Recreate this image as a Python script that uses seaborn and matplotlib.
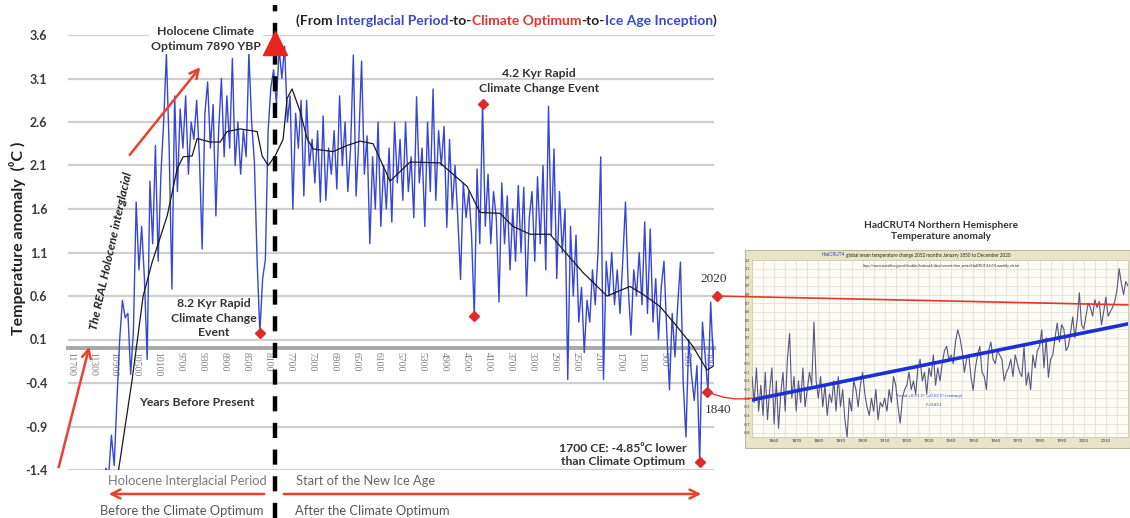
import numpy as np
import pandas as pd
import matplotlib
matplotlib.use("Agg")
import matplotlib.pyplot as plt
import seaborn as sns
from matplotlib.patches import Rectangle, ConnectionPatch

# ---------------- data ----------------
# Holocene temperature reconstruction (years before present, 50-yr steps)
years_bp = np.arange(11150, -51, -50)
temp_anom = [
    -1.70, -1.50, -1.38, -1.45, -1.00, -1.35, -0.60, 0.10, 0.55, 0.35,
    0.40, -0.30, 0.20, 1.68, 0.90, 1.40, 0.80, -0.13, 1.92, 1.20,
    2.33, 1.00, 2.00, 2.60, 3.39, 2.30, 0.68, 2.90, 1.80, 2.75,
    2.30, 2.90, 2.00, 2.60, 2.40, 2.85, 2.20, 1.14, 2.70, 3.06,
    2.30, 2.80, 1.52, 2.50, 3.10, 2.20, 2.90, 2.30, 3.33, 2.10,
    2.60, 2.00, 2.50, 2.20, 3.39, 2.60, 2.14, 1.00, 0.18, 0.80,
    1.02, 2.50, 3.00, 3.20, 2.80, 3.44, 3.10, 3.47, 2.60, 2.90,
    1.60, 2.70, 2.30, 2.85, 1.75, 2.85, 2.10, 2.40, 1.90, 2.50,
    1.68, 2.67, 1.70, 2.30, 2.00, 2.50, 1.83, 2.90, 2.10, 2.60,
    1.80, 2.30, 3.37, 1.75, 2.40, 3.30, 2.00, 2.44, 1.20, 2.20,
    1.60, 2.60, 1.40, 2.10, 1.60, 2.30, 1.45, 2.60, 1.90, 2.40,
    1.70, 2.60, 1.80, 2.20, 1.50, 2.89, 1.90, 2.30, 1.40, 2.60,
    1.80, 2.98, 1.70, 2.50, 2.10, 2.55, 1.39, 2.40, 1.60, 2.10,
    1.50, 0.79, 1.90, 1.50, 1.80, 1.30, 0.37, 2.06, 1.20, 2.81,
    1.40, 2.00, 1.20, 1.80, 1.50, 0.53, 1.90, 1.20, 1.75, 0.90,
    1.60, 1.00, 1.87, 1.10, 1.85, 0.60, 1.50, 1.80, 1.00, 1.97,
    1.20, 2.10, 0.90, 2.78, 1.30, 2.29, 0.80, 1.80, 1.10, 1.60,
    -0.36, 1.40, 0.60, 1.30, 0.30, 0.70, -0.05, 0.55, 0.30, 0.90,
    0.50, 1.10, 2.20, -0.36, 1.00, 0.60, 1.10, 0.50, 0.90, 0.40,
    1.00, 1.68, 0.70, 0.15, 0.90, 0.60, 1.10, 0.50, 1.45, 0.40,
    1.37, 0.30, 0.80, 0.10, 0.70, 1.00, 0.20, -0.48, 0.40, -0.10,
    0.50, 0.99, -0.40, -1.02, 0.10, -0.30, -0.60, -0.20, -1.31, 0.30,
    -0.10, -0.50, 0.53, -0.20, 0.55,
]
# smoothed (running mean) curve
smooth_years = [10900, 10820, 10573, 10373, 10209, 9936, 9755, 9646, 9482, 9391,
                9155, 8973, 8846, 8609, 8300, 8209, 8100, 7973, 7828, 7755,
                7664, 7518, 7391, 7282, 6918, 6664, 6427, 6191, 5882, 5518,
                4973, 4482, 4246, 3882, 3646, 3336, 2973, 2664, 2373, 1936,
                1518, 1282, 973, 664, 373, 118, 9]
smooth_vals = [-1.70, -1.40, -0.36, 0.60, 0.99, 1.52, 2.06, 2.20, 2.21, 2.41,
               2.37, 2.37, 2.49, 2.52, 2.49, 2.21, 2.10, 2.21, 2.40, 2.87,
               2.98, 2.72, 2.41, 2.29, 2.26, 2.33, 2.38, 2.35, 1.92, 2.14,
               2.13, 1.86, 1.56, 1.55, 1.40, 1.31, 1.31, 1.08, 0.87, 0.60,
               0.71, 0.62, 0.48, 0.25, 0.02, -0.25, -0.21]
# highlighted events: 8.2 kyr, 4.2 kyr peak, 4.2 kyr low, 1700 CE, 1840, 2020
event_years = [8250, 4200, 4350, 250, 110, -70]
event_vals = [0.18, 2.81, 0.37, -1.31, -0.50, 0.60]
optimum_year = 7970
optimum_peak = 3.51
ytick_vals = [3.6, 3.1, 2.6, 2.1, 1.6, 1.1, 0.6, 0.1, -0.4, -0.9, -1.4]
xtick_years = list(range(11700, 0, -400))

# HadCRUT4 Northern Hemisphere inset (annual)
had_years = np.arange(1850, 2021)
had_vals = [
    -0.15, -0.45, -0.05, -0.55, -0.25, -0.60, -0.10, -0.65, -0.30, -0.05,
    -0.70, -0.20, -0.75, -0.35, -0.10, -0.55, 0.05, 0.35, -0.40, -0.15,
    -0.55, -0.20, -0.45, -0.05, -0.50, -0.30, -0.10, -0.25, 0.48, -0.20,
    -0.40, -0.15, -0.50, -0.25, -0.60, -0.35, -0.45, -0.20, -0.55, -0.15,
    -0.50, -0.30, -0.65, -0.85, -0.40, -0.55, -0.20, -0.30, -0.50, -0.25,
    -0.10, -0.35, -0.50, -0.60, -0.40, -0.55, -0.30, -0.65, -0.45, -0.50,
    -0.40, -0.55, -0.30, -0.45, -0.15, -0.25, -0.50, -0.69, -0.40, -0.30,
    -0.25, -0.10, -0.30, -0.20, -0.35, -0.05, 0.05, -0.20, -0.10, -0.35,
    -0.05, -0.15, 0.10, -0.25, -0.05, -0.20, 0.00, 0.15, 0.20, 0.05,
    0.10, 0.00, 0.25, 0.39, 0.30, 0.15, -0.10, 0.05, 0.10, -0.15,
    -0.31, -0.05, 0.10, 0.20, -0.10, -0.15, -0.30, 0.15, 0.25, 0.05,
    0.00, 0.15, 0.10, 0.05, -0.20, -0.10, -0.05, 0.05, -0.15, 0.10,
    0.00, -0.10, -0.15, 0.20, -0.25, -0.10, -0.30, 0.10, -0.05, 0.15,
    0.20, 0.39, -0.05, 0.30, -0.16, 0.05, 0.10, 0.30, 0.47, 0.25,
    0.45, 0.40, 0.15, 0.20, 0.35, 0.54, 0.30, 0.50, 0.82, 0.45,
    0.40, 0.55, 0.70, 0.65, 0.55, 0.74, 0.65, 0.72, 0.45, 0.60,
    0.77, 0.55, 0.60, 0.65, 0.72, 0.85, 1.10, 0.93, 0.80, 0.95,
    0.90,
]
trend_years = [1850, 2020]
trend_vals = [-0.42, 0.46]
link_2020_end = (2020, 0.68)
link_1840_end = (1850, -0.40)
had_xticks = list(range(1860, 2011, 10))
had_yticks = [round(v, 1) for v in np.arange(-0.8, 1.21, 0.1)]

# ---------------- style ----------------
sns.set_style("white")
plt.rcParams["font.family"] = ["Lato", "DejaVu Sans"]

W, H = 1130, 518
fig = plt.figure(figsize=(W / 100, H / 100), dpi=100)
fig.patch.set_facecolor("white")


def fx(px):
    return px / W


def fy(py):
    return 1 - py / H


BLUE = "#3646d6"
RED = "#e3362a"
DARK = "#333333"

# ---------------- main axes ----------------
ax = fig.add_axes([fx(68), fy(470), fx(714) - fx(68), fy(35) - fy(470)])
df = pd.DataFrame({"year": years_bp, "temp": temp_anom})
sns.lineplot(data=df, x="year", y="temp", ax=ax, color=BLUE, lw=1.0, zorder=3)
sns.lineplot(x=smooth_years, y=smooth_vals, ax=ax, color="#1a1a1a", lw=0.9, zorder=4)
ax.set_xlim(11740, -10)
ax.set_ylim(-1.4, 3.6)

for s in ["top", "right", "left"]:
    ax.spines[s].set_visible(False)
ax.spines["bottom"].set_position(("data", 0.0))
ax.spines["bottom"].set_color("#a8a8a8")
ax.spines["bottom"].set_linewidth(2.8)

ax.set_axisbelow(True)
ax.yaxis.grid(True, color="#cfcfcf", lw=1.6)
ax.xaxis.grid(False)
ax.set_yticks(ytick_vals)
ax.set_yticklabels([f"{v:.1f}" for v in ytick_vals], fontweight="bold",
                   fontsize=9, color="#3a3a3a")
ax.tick_params(axis="y", length=0, pad=15)
ax.set_xticks(xtick_years)
ax.set_xticklabels([str(y) for y in xtick_years], rotation=270, fontsize=7,
                   color="#808080", family="Liberation Serif")
ax.tick_params(axis="x", length=0, pad=3)
ax.set_xlabel("")
ax.set_ylabel("")

# optimum marker
ax.axvline(optimum_year, ymin=-0.11, ymax=1.07, color="black", lw=3.2,
           ls=(0, (3.4, 2.6)), clip_on=False, zorder=5)
ax.plot([optimum_year], [optimum_peak], marker="^", ms=17, color="#e8241c",
        clip_on=False, zorder=6, ls="none")
# event dots
ax.plot(event_years, event_vals, marker="D", ms=5.5, color="#e02a2a", ls="none",
        clip_on=False, zorder=7)

# ---------------- texts ----------------
fig.text(fx(18), fy(238), "Temperature anomaly  (\u2070C )", rotation=90,
         ha="center", va="center", fontsize=11.5, fontweight="bold", color="#222222")

parts = [("(From ", "#222222"), ("Interglacial Period", "#3a48c8"), ("-to-", "#222222"),
         ("Climate Optimum", "#e5332a"), ("-to-", "#222222"),
         ("Ice Age Inception", "#3a48c8"), (")", "#222222")]
t = fig.text(fx(296), fy(27), parts[0][0], color=parts[0][1], fontsize=10,
             fontweight="bold", ha="left", va="bottom")
for s, c in parts[1:]:
    t = ax.annotate(s, xy=(1, 0), xycoords=t, ha="left", va="bottom", color=c,
                    fontsize=10, fontweight="bold", annotation_clip=False)

fig.text(fx(206), fy(39), "Holocene Climate\nOptimum 7890 YBP", ha="center", va="center",
         fontsize=8.8, fontweight="bold", color=DARK, linespacing=1.35,
         bbox=dict(facecolor="white", edgecolor="none", pad=1.5))
fig.text(fx(539), fy(81), "4.2 Kyr Rapid\nClimate Change Event", ha="center", va="center",
         fontsize=8.8, fontweight="bold", color=DARK, linespacing=1.35)
fig.text(fx(214), fy(318), "8.2 Kyr Rapid\nClimate Change\nEvent", ha="center",
         va="center", fontsize=8.8, fontweight="bold", color=DARK, linespacing=1.35)
fig.text(fx(197), fy(402), "Years Before Present", ha="center", va="center",
         fontsize=8.8, fontweight="bold", color=DARK)
fig.text(fx(623), fy(455), "1700 CE: -4.85\u2070C lower\nthan Climate Optimum",
         ha="center", va="center", fontsize=8.8, fontweight="bold", color=DARK,
         linespacing=1.3)
fig.text(fx(111), fy(251), "The REAL Holocene interglacial", rotation=77.5,
         rotation_mode="anchor", ha="center", va="center", fontsize=8.8,
         fontweight="bold", fontstyle="italic", color="#222222")
fig.text(fx(714), fy(279), "2020", ha="center", va="center", fontsize=9.5,
         family="Liberation Serif", color=DARK)
fig.text(fx(718), fy(410), "1840", ha="center", va="center", fontsize=9.5,
         family="Liberation Serif", color=DARK)

fig.text(fx(267), fy(481), "Holocene Interglacial Period", ha="right", va="center",
         fontsize=9.3, color="#7a7a7a")
fig.text(fx(296), fy(481), "Start of the New Ice Age", ha="left", va="center",
         fontsize=9.3, color="#666666")
fig.text(fx(264), fy(511), "Before the Climate Optimum", ha="right", va="center",
         fontsize=9.3, color="#555555")
fig.text(fx(295), fy(511), "After the Climate Optimum", ha="left", va="center",
         fontsize=9.3, color="#555555")

arrow_kw = dict(arrowstyle="->", color="#e8412e", lw=1.8, mutation_scale=16)
for (x0, y0), (x1, y1) in [((128, 157), (202, 65)), ((58, 470), (90, 344)),
                           ((267, 494), (106, 494)), ((281, 494), (704, 494))]:
    ax.annotate("", xy=(fx(x1), fy(y1)), xytext=(fx(x0), fy(y0)),
                xycoords="figure fraction", textcoords="figure fraction",
                arrowprops=arrow_kw, annotation_clip=False)

# ---------------- inset ----------------
fig.text(fx(941), fy(231), "HadCRUT4 Northern Hemisphere\nTemperature anomaly",
         ha="center", va="center", fontsize=7.3, fontweight="bold", color=DARK,
         linespacing=1.3)
frame = Rectangle((fx(745), fy(448)), fx(1130) - fx(745), fy(250) - fy(448),
                  transform=fig.transFigure, facecolor="#e7e4c9", edgecolor="#bdb89c",
                  lw=0.8, zorder=0.5)
fig.add_artist(frame)
axin = fig.add_axes([fx(752), fy(437), fx(1128) - fx(752), fy(260) - fy(437)], zorder=1)
axin.set_facecolor("#fcfcf5")
sns.lineplot(x=had_years, y=had_vals, ax=axin, color="#55557f", lw=0.8, zorder=3)
sns.lineplot(x=trend_years, y=trend_vals, ax=axin, color="#1c2fd6", lw=2.6, zorder=4)
axin.set_xlim(1850, 2020)
axin.set_ylim(-0.85, 1.2)
axin.set_xticks(had_xticks)
axin.set_xticks(list(range(1850, 2021, 5)), minor=True)
axin.set_xticklabels([str(v) for v in had_xticks], fontsize=3.2, color="#333333")
axin.set_yticks(had_yticks)
axin.set_yticklabels([f"{v:.1f}" for v in had_yticks], fontsize=2.6, color="#333333")
axin.tick_params(which="both", length=0, pad=1.5)
axin.grid(which="both", color="#dcdcd2", lw=0.5)
axin.set_axisbelow(True)
for s in axin.spines.values():
    s.set_color("#c8c4a8")
    s.set_linewidth(0.5)
axin.set_xlabel("")
axin.set_ylabel("")

t = fig.text(fx(822), fy(255), "HadCRUT4", fontsize=3.3, color="#3340c0",
             ha="left", va="center", zorder=5)
axin.annotate(" global mean temperature change 2052 months January 1850 to December 2020",
              xy=(1, 0), xycoords=t, ha="left", va="bottom", fontsize=3.3,
              color="#222222", annotation_clip=False)
fig.text(fx(941), fy(266),
         "https://www.metoffice.gov.uk/hadobs/hadcrut4/data/current/time_series/HadCRUT.4.6.0.0.monthly_nh.txt",
         ha="center", va="center", fontsize=2.3, color="#222222", zorder=5)
fig.text(fx(896), fy(396), "Trend +0.91 C\u00b0 (+0.53 C\u00b0/century)", ha="left",
         va="center", fontsize=3.2, color="#3340c0", zorder=5)
fig.text(fx(926), fy(405), "r\u00b2=0.811", ha="left", va="center", fontsize=3.2,
         color="#3340c0", zorder=5)

# red links from the main chart into the inset
con1 = ConnectionPatch(xyA=(event_years[5], event_vals[5]), coordsA="data", axesA=ax,
                       xyB=link_2020_end, coordsB="data", axesB=axin,
                       color=RED, lw=1.2, zorder=8)
con1.set_annotation_clip(False)
fig.add_artist(con1)
con2 = ConnectionPatch(xyA=(event_years[4], event_vals[4]), coordsA="data", axesA=ax,
                       xyB=link_1840_end, coordsB="data", axesB=axin,
                       color=RED, lw=1.0, zorder=8, connectionstyle="arc3,rad=0.15")
con2.set_annotation_clip(False)
fig.add_artist(con2)

fig.savefig("out.png", dpi=100, facecolor="white")
